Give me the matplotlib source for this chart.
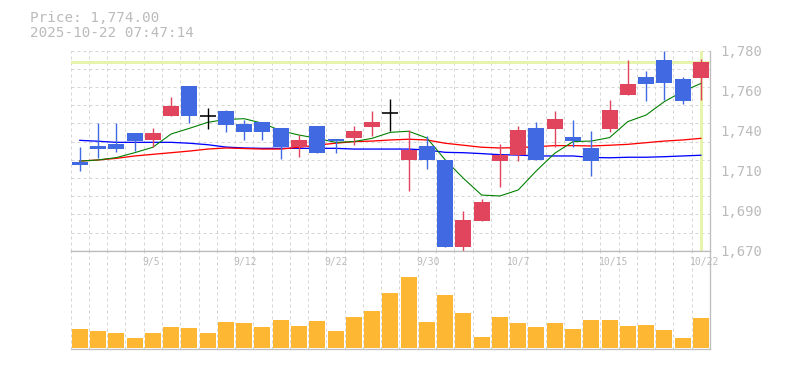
import matplotlib
matplotlib.use("Agg")
import matplotlib.pyplot as plt
import matplotlib.transforms as mtransforms

# ---------------- data ----------------
dates = ["9/1", "9/2", "9/3", "9/4", "9/5", "9/8", "9/9", "9/10", "9/11", "9/12",
         "9/16", "9/17", "9/18", "9/19", "9/22", "9/24", "9/25", "9/26", "9/29", "9/30",
         "10/1", "10/2", "10/3", "10/6", "10/7", "10/8", "10/9", "10/10", "10/14", "10/15",
         "10/16", "10/17", "10/20", "10/21", "10/22"]
opens = [1719, 1727.5, 1728.5, 1734.5, 1731, 1744, 1760.5, 1744, 1747, 1739.5,
         1741, 1737.5, 1727, 1738.5, 1731.5, 1732, 1738, 1745.5, 1720, 1727.5,
         1720, 1672, 1686.5, 1719.5, 1722.5, 1737.5, 1737, 1732.5, 1726.5, 1737,
         1755.5, 1765.5, 1775, 1764.5, 1765]
highs = [1727, 1740, 1740, 1735, 1737.5, 1754.5, 1760.5, 1748.5, 1747.5, 1742,
         1741, 1737.5, 1733.5, 1738.5, 1731.5, 1738.5, 1747, 1753.5, 1736.5, 1733,
         1720, 1692, 1698.5, 1728.5, 1738.5, 1741, 1747, 1742, 1736, 1753,
         1775, 1769, 1780, 1765.5, 1775.5]
lows = [1714, 1721, 1724.5, 1725, 1727, 1744, 1740.5, 1737, 1735.5, 1731,
        1731, 1720.5, 1721.5, 1723.5, 1723.5, 1728, 1733, 1736, 1703, 1715,
        1672, 1670, 1686.5, 1705, 1719.5, 1720, 1727, 1727, 1711, 1735.5,
        1755.5, 1752.5, 1753, 1750.5, 1753]
closes = [1717, 1726, 1726, 1730.5, 1734.5, 1749.5, 1744, 1744, 1739, 1735.5,
          1735.5, 1727, 1731, 1723.5, 1730.5, 1736, 1741, 1745.5, 1725.5, 1720,
          1672, 1687, 1697, 1722.5, 1736.5, 1720, 1742.5, 1730.5, 1719.5, 1747.5,
          1761.5, 1761.5, 1762.5, 1752.5, 1774]
ma_short = [1719.3, 1719.9, 1721.2, 1723.9, 1726.9, 1734.2, 1737.3, 1740.6, 1742.2, 1742.6,
            1740.1, 1736.0, 1733.6, 1731.8, 1729.6, 1730.0, 1731.8, 1735.1, 1735.7, 1732.0,
            1720.0, 1709.8, 1700.6, 1700.1, 1703.4, 1714.0, 1723.6, 1730.0, 1730.3, 1732.2,
            1741.0, 1744.6, 1752.0, 1757.5, 1762.0]
ma_mid = [1719.3, 1719.9, 1720.8, 1722.1, 1723.0, 1723.9, 1724.8, 1725.9, 1726.5, 1726.2,
          1725.9, 1725.9, 1726.9, 1728.1, 1729.1, 1730.0, 1730.3, 1730.9, 1731.3, 1730.9,
          1729.1, 1728.0, 1726.9, 1726.5, 1726.7, 1727.2, 1727.8, 1727.8, 1727.6, 1728.0,
          1728.5, 1729.4, 1730.3, 1730.9, 1731.8]
ma_long = [1730.7, 1730.2, 1729.6, 1729.6, 1729.6, 1729.6, 1729.1, 1728.3, 1727.0, 1726.5,
           1726.3, 1726.3, 1726.3, 1726.3, 1726.3, 1725.9, 1725.9, 1725.9, 1725.9, 1725.4,
           1724.1, 1723.9, 1723.4, 1722.8, 1722.6, 1722.1, 1722.1, 1722.1, 1721.3, 1721.1,
           1721.4, 1721.4, 1721.7, 1722.1, 1722.5]
volumes = [19000, 17000, 15000, 10000, 15000, 21000, 20000, 15000, 26000, 25000,
           21000, 28000, 22000, 27000, 17000, 31000, 37000, 55000, 71000, 26000,
           53000, 35000, 11000, 31000, 25000, 21000, 25000, 19000, 28000, 28000,
           22000, 23000, 18000, 10000, 30000]
y_tick_values = [1780, 1758, 1736, 1714, 1692, 1670]
y_tick_labels = ["1,780", "1,760", "1,740", "1,710", "1,690", "1,670"]
x_label_dates = ["9/5", "9/12", "9/22", "9/30", "10/7", "10/15", "10/22"]
last_price = 1774.00
title_price = "Price: 1,774.00"
title_time = "2025-10-22 07:47:14"

# ---------------- style ----------------
UP = "#E1455E"
DOWN = "#4169E1"
VOL = "#FDB733"
GRID = "#D6D6D6"
BORDER = "#BDBDBD"
TEXT = "#BBBBBB"
CROSS = "#E6F4AE"
MONO = ["DejaVu Sans Mono"]
PX = 0.72  # points per pixel at 100 dpi

W, H = 785, 370
L, R = 70.7, 710.0
P_TOP, P_BOT = 50.7, 250.7
V_TOP, V_BOT = 250.7, 349.3

fig = plt.figure(figsize=(W / 100, H / 100), dpi=100)
fig.patch.set_facecolor("white")
axp = fig.add_axes([L / W, 1 - P_BOT / H, (R - L) / W, (P_BOT - P_TOP) / H])
axv = fig.add_axes([L / W, 1 - V_BOT / H, (R - L) / W, (V_BOT - V_TOP) / H])

n = len(dates)
xs = list(range(n))
for ax in (axp, axv):
    ax.set_xlim(-0.5, n - 0.5)
    for k in range(n):
        ax.axvline(k - 0.5, color=GRID, lw=PX, ls=(0, (3, 3)), zorder=0, clip_on=False)
    for s in ("left", "top", "bottom", "right"):
        ax.spines[s].set_color(BORDER)
        ax.spines[s].set_linewidth(PX * 1.3)
    ax.spines["left"].set_visible(False)
    ax.set_xticks([])

axp.spines["top"].set_visible(False)
axp.set_ylim(1670, 1780)
for v in range(1670, 1781, 10):
    axp.axhline(v, color=GRID, lw=PX, ls=(0, (3, 3)), zorder=0, clip_on=False)

# crosshair
axp.axhline(last_price, color=CROSS, lw=3 * PX, zorder=1)
axp.axvline(xs[-1], color=CROSS, lw=3 * PX, zorder=1)

# moving averages
axp.plot(xs, ma_long, color="#0000FF", lw=1.3 * PX, zorder=2)
axp.plot(xs, ma_mid, color="#FF0000", lw=1.3 * PX, zorder=2)
axp.plot(xs, ma_short, color="#008000", lw=1.1 * PX, zorder=2)

# candles
bw = 0.876
for x, o, h, l, c in zip(xs, opens, highs, lows, closes):
    if c > o:
        col = UP
    elif c < o:
        col = DOWN
    else:
        col = "black"
    axp.vlines(x, l, h, color=col, lw=1.4 * PX, zorder=3)
    if c == o:
        axp.hlines(c, x - bw / 2, x + bw / 2, color=col, lw=1.6 * PX, zorder=4)
    else:
        axp.bar(x, abs(c - o), bottom=min(o, c), width=bw, color=col,
                linewidth=0, zorder=4)

axp.yaxis.tick_right()
axp.set_yticks(y_tick_values, y_tick_labels)
axp.tick_params(axis="y", length=0, pad=10.7 * PX, labelsize=10,
                labelcolor=TEXT)
for t in axp.get_yticklabels():
    t.set_fontfamily(MONO)

# volume
vmax = max(volumes)
axv.set_ylim(-vmax * 0.018, vmax * 1.37)
axv.set_yticks([])
axv.bar(xs, volumes, width=bw, color=VOL, linewidth=0, zorder=2)
trans = mtransforms.blended_transform_factory(axv.transData, axv.transAxes)
for d in x_label_dates:
    i = dates.index(d)
    axv.text(i - 0.6, 0.882, d, transform=trans, ha="left", va="center",
             fontsize=7, color=TEXT, family=MONO, zorder=3)

# header text
fig.text(30 / W, 1 - 17.7 / H, title_price, ha="left", va="center",
         fontsize=10.3, color=TEXT, family=MONO)
fig.text(30 / W, 1 - 33.3 / H, title_time, ha="left", va="center",
         fontsize=10.3, color=TEXT, family=MONO)

fig.savefig("out.png", dpi=100, facecolor="white")
